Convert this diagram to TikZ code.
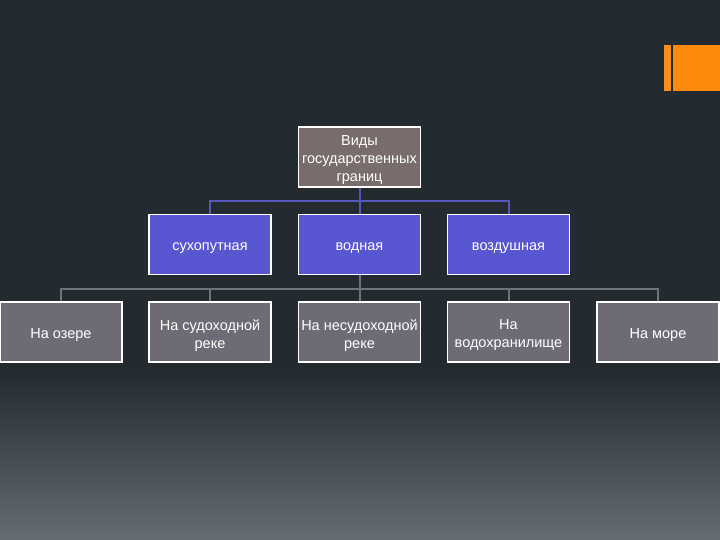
\documentclass[tikz,border=0pt]{standalone}
\usepackage{fontspec}
\setmainfont{Liberation Sans}
\usetikzlibrary{backgrounds}
\definecolor{bgdark}{HTML}{232A30}
\definecolor{bglight}{HTML}{656C74}
\definecolor{orangeA}{HTML}{F7901A}
\definecolor{orangeB}{HTML}{FD8A0C}
\definecolor{topfill}{HTML}{796D6B}
\definecolor{midfill}{HTML}{5956D2}
\definecolor{lowfill}{HTML}{6F6B76}
\definecolor{blueline}{HTML}{5656BC}
\definecolor{grayline}{HTML}{6E727A}
\newcommand{\boxtext}[1]{\parbox[c][60pt][c]{122pt}{\centering\vspace*{7pt}#1\par}}
\tikzset{
  box/.style={draw=white, line width=1.8pt, minimum width=122pt, minimum height=60pt,
    inner sep=0pt, text=white, font=\fontsize{14.5}{18}\selectfont},
  topbox/.style={box, fill=topfill},
  midbox/.style={box, fill=midfill},
  lowbox/.style={box, fill=lowfill},
  blink/.style={draw=blueline, line width=2pt},
  glink/.style={draw=grayline, line width=2pt}
}
\begin{document}
\begin{tikzpicture}[x=1pt,y=-1pt]
\useasboundingbox (0,0) rectangle (720,540);
% nodes
\node[topbox] (root) at (359.5,157) {\boxtext{Виды\\государственных\\границ}};
\node[midbox] (m1) at (210,244.5) {\boxtext{сухопутная}};
\node[midbox] (m2) at (359.5,244.5) {\boxtext{водная}};
\node[midbox] (m3) at (508.5,244.5) {\boxtext{воздушная}};
\node[lowbox] (l1) at (61,332) {\boxtext{На озере}};
\node[lowbox] (l2) at (210,332) {\boxtext{На судоходной\\реке}};
\node[lowbox] (l3) at (359.5,332) {\boxtext{На несудоходной\\реке}};
\node[lowbox] (l4) at (508.5,332) {\boxtext{На\\водохранилище}};
\node[lowbox] (l5) at (658,332) {\boxtext{На море}};
\coordinate (bj) at (359.5,201);
\coordinate (gj) at (359.5,289);
\begin{scope}[on background layer]
\fill[bgdark] (0,0) rectangle (720,372);
\shade[top color=bgdark, bottom color=bglight] (0,371) rectangle (720,540);
% orange bars
\fill[orangeA] (664,45) rectangle (671,91);
\fill[orangeB] (673,45) rectangle (720,91);
% connectors
\draw[blink] (root.south) -- (bj);
\draw[blink] (m1.north) |- (bj) -| (m3.north);
\draw[blink] (bj) -- (m2.north);
\draw[glink] (m2.south) -- (gj);
\draw[glink] (l1.north) |- (gj) -| (l5.north);
\draw[glink] (l2.north) -- (l2.north |- gj);
\draw[glink] (l4.north) -- (l4.north |- gj);
\draw[glink] (gj) -- (l3.north);
\end{scope}
\end{tikzpicture}
\end{document}
